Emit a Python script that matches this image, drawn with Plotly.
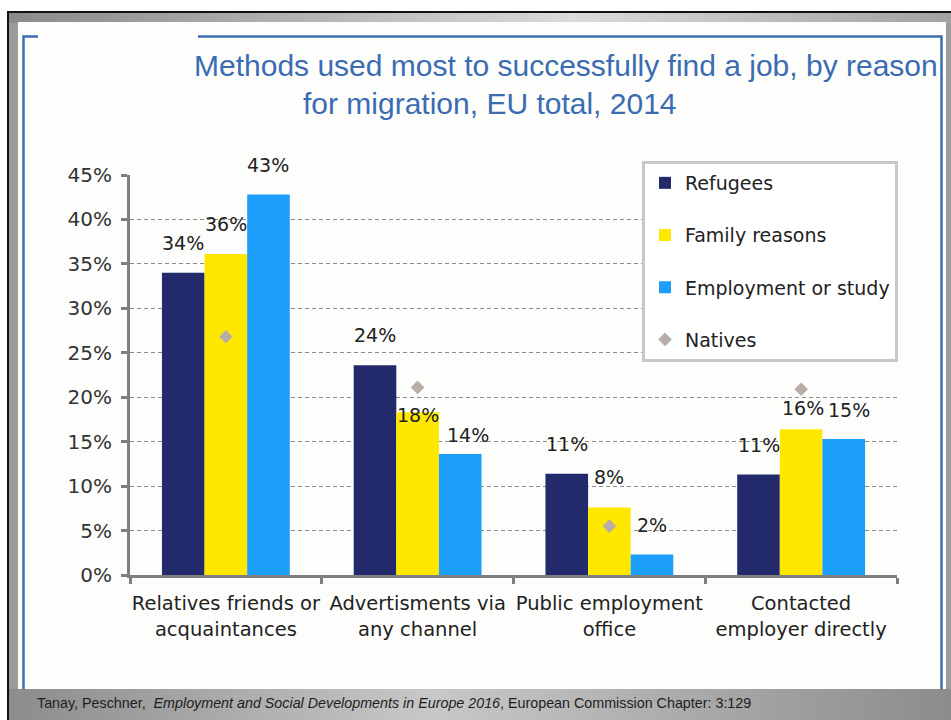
import base64
import plotly.graph_objects as go

# ---- data -------------------------------------------------------------
categories = [
    "Relatives friends or<br>acquaintances",
    "Advertisments via<br>any channel",
    "Public employment<br>office",
    "Contacted<br>employer directly",
]
refugees = [34.0, 23.6, 11.4, 11.3]
family_reasons = [36.1, 18.3, 7.6, 16.4]
employment_study = [42.8, 13.6, 2.3, 15.3]
natives = [26.8, 21.1, 5.5, 20.9]

series_names = ["Refugees", "Family reasons", "Employment or study"]
series_values = [refugees, family_reasons, employment_study]
series_colors = ["#232a6c", "#ffe800", "#1c9ffa"]
natives_color = "#b9ada7"

y_ticks = [0, 5, 10, 15, 20, 25, 30, 35, 40, 45]

title_line1 = "Methods used most to successfully find a job, by reason"
title_line2 = "for migration, EU total, 2014"
source_text = ("Tanay, Peschner,  <i>Employment and Social Developments in Europe 2016</i>,"
               " European Commission Chapter: 3:129")

# ---- geometry ---------------------------------------------------------
W, H = 951, 720
ML, MR, MT, MB = 130, 54, 175, 145
PW, PH = W - ML - MR, H - MT - MB
BARGAP = 1 / 3
bar_w = PW / len(categories) * (1 - BARGAP) / len(series_names)


def px_x(x):
    return (x - ML) / PW


def px_y(y):
    return (H - MB - y) / PH


LABEL_FONT = "DejaVu Sans, Verdana, sans-serif"
NARROW_FONT = "Liberation Sans, Arial, sans-serif"

fig = go.Figure()

for k, (name, vals, col) in enumerate(zip(series_names, series_values, series_colors)):
    fig.add_trace(go.Bar(
        name=name, x=categories, y=vals, marker=dict(color=col, line=dict(width=0)),
        legendgroup=name, hoverinfo="skip",
    ))

fig.add_trace(go.Scatter(
    name="Natives", x=categories, y=natives, mode="markers",
    marker=dict(symbol="diamond", size=10.5, color=natives_color),
    legendgroup="Natives", hoverinfo="skip",
))

# value labels sit above their bars; a few are nudged clear of the diamonds
nudges = {(1, 1): (0, -33), (2, 1): (8, -11), (1, 3): (2, -9), (2, 3): (5, -1)}
annotations = []
for k, vals in enumerate(series_values):
    for i, v in enumerate(vals):
        dx, dy = nudges.get((k, i), (0, 0))
        annotations.append(dict(
            x=categories[i], y=v, xref="x", yref="y",
            xshift=(k - 1) * bar_w + dx, yshift=30 + dy,
            text=f"{v:.0f}%", showarrow=False, yanchor="middle", xanchor="center",
            font=dict(family=LABEL_FONT, size=19, color="#222222"),
        ))

annotations += [
    dict(x=px_x(566), y=px_y(65), xref="paper", yref="paper", text=title_line1,
         showarrow=False, xanchor="center", yanchor="middle",
         font=dict(family=NARROW_FONT, size=30, color="#3a6cb3")),
    dict(x=px_x(490), y=px_y(103), xref="paper", yref="paper", text=title_line2,
         showarrow=False, xanchor="center", yanchor="middle",
         font=dict(family=NARROW_FONT, size=30, color="#3a6cb3")),
    dict(x=px_x(35), y=px_y(703), xref="paper", yref="paper", text=source_text,
         showarrow=False, xanchor="left", yanchor="middle",
         font=dict(family=NARROW_FONT, size=14.3, color="#1e1e1e")),
]

# slide frame: white margin, black edge, grey gradient bands, off-white panel, blue border
frame_svg = f"""<svg xmlns='http://www.w3.org/2000/svg' width='{W}' height='{H}' viewBox='0 0 {W} {H}' preserveAspectRatio='none'>
<defs>
<linearGradient id='t' x1='0' x2='1' y1='0' y2='0'>
<stop offset='0' stop-color='#8a8a8a'/><stop offset='0.6' stop-color='#dadada'/><stop offset='1' stop-color='#a2a2a2'/>
</linearGradient>
<linearGradient id='b' x1='0' x2='1' y1='0' y2='0'>
<stop offset='0' stop-color='#8c8c8c'/><stop offset='0.45' stop-color='#c8c8c8'/><stop offset='1' stop-color='#8c8c8c'/>
</linearGradient>
</defs>
<rect x='0' y='0' width='{W}' height='{H}' fill='#ffffff'/>
<rect x='7' y='11' width='{W - 7}' height='{H - 11}' fill='#111111'/>
<rect x='9' y='13' width='{W - 9}' height='{H - 13}' fill='#9c9c9c'/>
<rect x='9' y='13' width='{W - 9}' height='10' fill='url(#t)'/>
<rect x='18' y='22' width='928' height='668' fill='#fdfdfb'/>
<rect x='23.5' y='36.5' width='918' height='670' fill='none' stroke='#3b6db2' stroke-width='2.5'/>
<rect x='38' y='33' width='160' height='7' fill='#ffffff'/>
<rect x='9' y='689' width='{W - 9}' height='31' fill='url(#b)'/>
</svg>"""
frame_src = "data:image/svg+xml;base64," + base64.b64encode(frame_svg.encode()).decode()

fig.update_layout(
    width=W, height=H,
    margin=dict(l=ML, r=MR, t=MT, b=MB, pad=0, autoexpand=False),
    paper_bgcolor="#ffffff", plot_bgcolor="rgba(0,0,0,0)",
    barmode="group", bargap=BARGAP, bargroupgap=0,
    showlegend=True,
    legend=dict(
        x=px_x(642), y=px_y(161), xanchor="left", yanchor="top",
        bgcolor="#ffffff", bordercolor="#c8c8c8", borderwidth=3,
        font=dict(family=LABEL_FONT, size=19, color="#222222"),
        tracegroupgap=24.5, traceorder="grouped",
    ),
    annotations=annotations,
    images=[dict(source=frame_src, xref="paper", yref="paper",
                 x=px_x(0), y=px_y(0), sizex=W / PW, sizey=H / PH,
                 xanchor="left", yanchor="top", sizing="stretch", layer="below")],
    xaxis=dict(
        type="category", tickson="boundaries", ticks="outside", ticklen=6, tickwidth=3,
        tickcolor="#7f7f7f", showline=True, linecolor="#7f7f7f", linewidth=3,
        showgrid=False, tickfont=dict(family=LABEL_FONT, size=19.5, color="#222222"),
        tickangle=0, automargin=False, ticklabelstandoff=9,
    ),
    yaxis=dict(
        range=[0, 45], tickvals=y_ticks, ticktext=[f"{t}%" for t in y_ticks],
        ticks="outside", ticklen=6, tickwidth=3, tickcolor="#7f7f7f",
        showline=True, linecolor="#7f7f7f", linewidth=3, zeroline=False,
        showgrid=True, gridcolor="#8c8c8c", gridwidth=1, griddash="4px,3px",
        tickfont=dict(family=LABEL_FONT, size=20, color="#333333"), automargin=False,
        ticklabelstandoff=5,
    ),
)

fig.write_html("out.html")
